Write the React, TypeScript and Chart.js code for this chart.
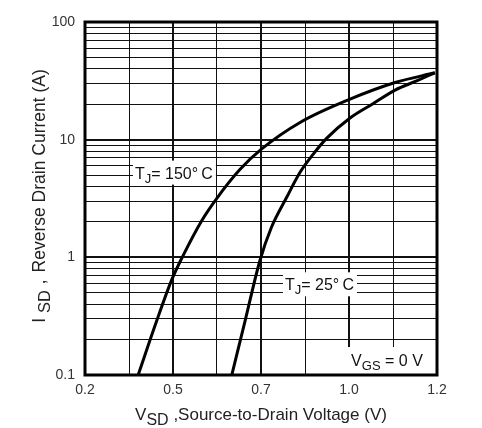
import React, { useEffect, useRef } from "react";
import { Chart, registerables } from "chart.js";

Chart.register(...registerables);

// T_J = 150 °C curve
const vsd150 = [0.351, 0.404, 0.446, 0.479, 0.532, 0.574, 0.640, 0.702, 0.811, 0.953, 1.081, 1.194];
const isd150 = [0.1, 0.29, 0.64, 1.04, 2.06, 3.16, 5.57, 8.34, 14.0, 22.1, 30.6, 37];
// T_J = 25 °C curve
const vsd25 = [0.617, 0.655, 0.697, 0.730, 0.773, 0.811, 0.849, 0.887, 0.953, 1.019, 1.081, 1.142, 1.194];
const isd25 = [0.1, 0.29, 0.94, 1.81, 3.24, 5.28, 7.57, 10.3, 15.3, 20.3, 26.4, 31.6, 37];

// axes
const xGridValues = [0.2, 0.325, 0.45, 0.575, 0.7, 0.825, 0.95, 1.075, 1.2];
const xTickValues = [0.2, 0.45, 0.7, 0.95, 1.2];
const xTickLabels = ["0.2", "0.5", "0.7", "1.0", "1.2"];
const yDecades = [0.1, 1, 10, 100];
const yMinorSteps = [2, 3, 4, 5, 6, 7, 8, 9];
const yTickLabels = ["0.1", "1", "10", "100"];

const FONT = "'Liberation Sans', Arial, Helvetica, sans-serif";

type Part = { t: string; sub?: boolean; dx?: number };
type Note = { parts: Part[]; x: number; y: number; padL: number; padR: number; halfH: number; toCorner?: boolean };

const notes: Note[] = [
  { parts: [{ t: "T" }, { t: "J", sub: true }, { t: "= 150°\u2009C" }], x: 0.342, y: 5.25, padL: 2, padR: 3, halfH: 12 },
  { parts: [{ t: "T" }, { t: "J", sub: true }, { t: "= 25°\u2009C" }], x: 0.768, y: 0.59, padL: 2, padR: 3, halfH: 12 },
  { parts: [{ t: "V" }, { t: "GS", sub: true }, { t: " = 0 V" }], x: 0.956, y: 0.134, padL: 6, padR: 6, halfH: 13, toCorner: true },
];

const xTitle: Part[] = [{ t: "V" }, { t: "SD", sub: true }, { t: " ,Source-to-Drain Voltage (V)" }];
const yTitle: Part[] = [{ t: "I" }, { t: "SD", sub: true, dx: 5 }, { t: " ,", dx: 1 }, { t: " Reverse Drain Current (A)", dx: 2 }];

function richWidth(ctx: CanvasRenderingContext2D, parts: Part[], size: number, subSize: number) {
  let w = 0;
  for (const p of parts) {
    ctx.font = `${p.sub ? subSize : size}px ${FONT}`;
    w += (p.dx || 0) + ctx.measureText(p.t).width;
  }
  return w;
}

function drawRich(ctx: CanvasRenderingContext2D, parts: Part[], x: number, y: number, size: number, subSize: number, subDy: number) {
  let cx = x;
  ctx.textBaseline = "alphabetic";
  ctx.textAlign = "left";
  for (const p of parts) {
    ctx.font = `${p.sub ? subSize : size}px ${FONT}`;
    cx += p.dx || 0;
    ctx.fillText(p.t, cx, p.sub ? y + subDy : y);
    cx += ctx.measureText(p.t).width;
  }
}

const isDecade = (v: number) => Math.abs(Math.log10(v) - Math.round(Math.log10(v))) < 1e-6;

const decor = {
  id: "decor",
  beforeDatasetsDraw(chart: any) {
    const ctx: CanvasRenderingContext2D = chart.ctx;
    const xs = chart.scales.x;
    const ys = chart.scales.y;
    const area = chart.chartArea;
    ctx.save();
    for (const n of notes) {
      const size = 16;
      const sub = 13;
      const px = xs.getPixelForValue(n.x);
      const py = ys.getPixelForValue(n.y);
      const w = richWidth(ctx, n.parts, size, sub);
      const bx = px - n.padL;
      const by = py - n.halfH;
      const bw = n.toCorner ? area.right - bx : w + n.padL + n.padR;
      const bh = n.toCorner ? area.bottom - by : 2 * n.halfH;
      ctx.fillStyle = "#ffffff";
      ctx.fillRect(bx, by, bw, bh);
      ctx.fillStyle = "#111";
      drawRich(ctx, n.parts, px, py + 6, size, sub, 4);
    }
    ctx.restore();
  },
  afterDraw(chart: any) {
    const ctx: CanvasRenderingContext2D = chart.ctx;
    const a = chart.chartArea;
    ctx.save();
    ctx.strokeStyle = "#000";
    ctx.lineWidth = 3;
    ctx.strokeRect(a.left, a.top, a.right - a.left, a.bottom - a.top);

    ctx.fillStyle = "#222";
    // x title
    const xw = richWidth(ctx, xTitle, 17, 16);
    drawRich(ctx, xTitle, (a.left + a.right) / 2 - xw / 2, 420, 17, 16, 5);
    // y title
    const yw = richWidth(ctx, yTitle, 17.5, 16.5);
    ctx.translate(45, 196);
    ctx.rotate(-Math.PI / 2);
    drawRich(ctx, yTitle, -yw / 2, 0, 17.5, 16.5, 5);
    ctx.restore();
  },
};

export default function App() {
  const ref = useRef<HTMLCanvasElement>(null);
  useEffect(() => {
    const yGrid: number[] = [];
    yDecades.forEach((d, i) => {
      yGrid.push(d);
      if (i < yDecades.length - 1) yMinorSteps.forEach((m) => yGrid.push(d * m));
    });
    const chart = new Chart(ref.current as HTMLCanvasElement, {
      type: "line",
      data: {
        datasets: [
          {
            label: "TJ = 150°C",
            data: vsd150.map((x, i) => ({ x, y: isd150[i] })),
            borderColor: "#000",
            borderWidth: 3,
            pointRadius: 0,
            fill: false,
            cubicInterpolationMode: "monotone",
          },
          {
            label: "TJ = 25°C",
            data: vsd25.map((x, i) => ({ x, y: isd25[i] })),
            borderColor: "#000",
            borderWidth: 3,
            pointRadius: 0,
            fill: false,
            cubicInterpolationMode: "monotone",
          },
        ],
      },
      options: {
        animation: false,
        responsive: false,
        layout: { padding: { left: 0, right: 45, top: 22, bottom: 0 } },
        plugins: { legend: { display: false }, tooltip: { enabled: false } },
        scales: {
          x: {
            type: "linear",
            min: 0.2,
            max: 1.2,
            afterBuildTicks: (s: any) => {
              s.ticks = xGridValues.map((v) => ({ value: v }));
            },
            afterFit: (s: any) => {
              s.height = 53;
            },
            ticks: {
              autoSkip: false,
              maxRotation: 0,
              padding: 7,
              color: "#333",
              font: { family: FONT, size: 14 },
              callback: (v: any) => {
                const i = xTickValues.findIndex((t) => Math.abs(t - Number(v)) < 1e-6);
                return i >= 0 ? xTickLabels[i] : "";
              },
            },
            grid: {
              color: "#111",
              drawTicks: false,
              lineWidth: (c: any) => {
                const v = c.tick ? c.tick.value : 0;
                return xTickValues.some((t) => Math.abs(t - v) < 1e-6) ? 2 : 1;
              },
            },
            border: { display: false },
          },
          y: {
            type: "logarithmic",
            min: 0.1,
            max: 100,
            afterBuildTicks: (s: any) => {
              s.ticks = yGrid.map((v) => ({ value: v }));
            },
            afterFit: (s: any) => {
              s.width = 85;
            },
            ticks: {
              autoSkip: false,
              padding: 10,
              color: "#333",
              font: { family: FONT, size: 14 },
              callback: (v: any) => {
                const i = yDecades.findIndex((d) => Math.abs(d - Number(v)) < 1e-9);
                return i >= 0 ? yTickLabels[i] : "";
              },
            },
            grid: {
              color: "#111",
              drawTicks: false,
              lineWidth: (c: any) => (c.tick && isDecade(c.tick.value) ? 2 : 1),
            },
            border: { display: false },
          },
        },
      },
      plugins: [decor],
    } as any);
    return () => chart.destroy();
  }, []);
  return (
    <div style={{ position: "absolute", left: 0, top: 0, width: 482, height: 428, background: "#fff" }}>
      <canvas ref={ref} width={482} height={428} style={{ display: "block" }} />
    </div>
  );
}
